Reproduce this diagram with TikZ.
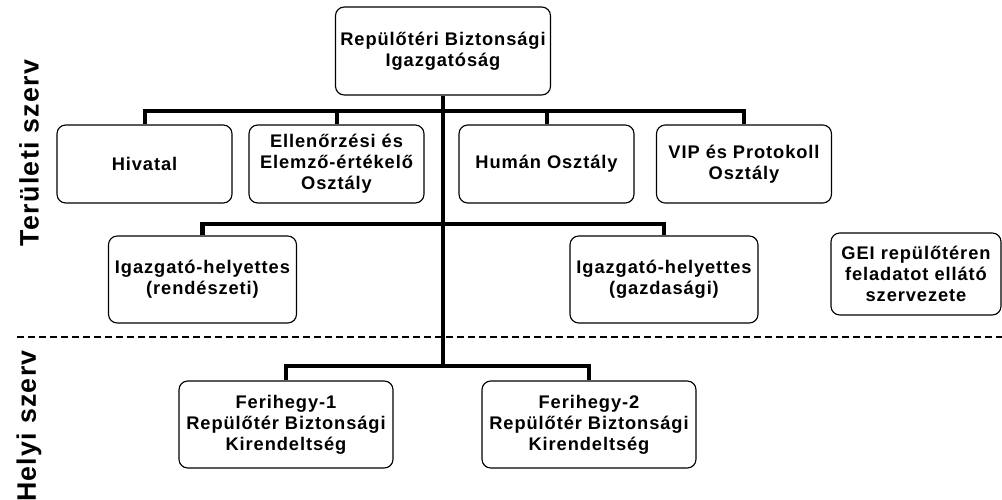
\documentclass[tikz,border=0pt]{standalone}
\usepackage{fontspec}
\setmainfont{Liberation Sans}[LetterSpace=5]
\tikzset{
    unit/.style={draw, rounded corners=0.22cm, line width=0.8pt, align=center, inner sep=0pt,
        font=\fontsize{13}{15}\selectfont\bfseries},
    bar/.style={line width=0.12cm},
    thinbar/.style={line width=0.1cm},
    side/.style={rotate=90, font=\fontsize{19}{22}\selectfont\bfseries}
}
\begin{document}
\begin{tikzpicture}[x=0.025cm, y=-0.025cm]
    \useasboundingbox (0, 0) rectangle (1002, 500);

    % Side labels and divider
    \node[side] (terlabel) at (29, 153) {Területi szerv};
    \node[side] (hellabel) at (29, 426) {Helyi szerv};
    \draw[line width=0.9pt, dash pattern=on 0.175cm off 0.1cm] (17, 337) -- (1002, 337);

    % Top level
    \node[unit, minimum width=5.375cm, minimum height=2.2cm] (rbi) at (443, 51)
        {Repülőtéri Biztonsági\\Igazgatóság};

    % Departments
    \begin{scope}[every node/.style={unit, minimum width=4.375cm, minimum height=1.95cm}]
        \node (hivatal) at (144.5, 164) {Hivatal};
        \node (ellenorzes) at (336.5, 164) {Ellenőrzési és\\Elemző-értékelő\\Osztály};
        \node (human) at (546.5, 164) {Humán Osztály};
        \node (vip) at (744, 164) {VIP és Protokoll\\Osztály};
    \end{scope}

    % Deputies
    \begin{scope}[every node/.style={unit, minimum width=4.7cm, minimum height=2.175cm}]
        \node (helyrend) at (202.5, 279.5) {Igazgató-helyettes\\(rendészeti)};
        \node (helygazd) at (664, 279.5) {Igazgató-helyettes\\(gazdasági)};
    \end{scope}
    \node[unit, minimum width=4.25cm, minimum height=2.05cm] (gei) at (916, 274)
        {GEI repülőtéren\\feladatot ellátó\\szervezete};

    % Local units
    \begin{scope}[every node/.style={unit, minimum width=5.35cm, minimum height=2.175cm}]
        \node (fh1) at (286, 424.5) {Ferihegy-1\\Repülőtér Biztonsági\\Kirendeltség};
        \node (fh2) at (589, 424.5) {Ferihegy-2\\Repülőtér Biztonsági\\Kirendeltség};
    \end{scope}

    % Connectors
    \coordinate (bar1) at (443, 111);
    \coordinate (bar2) at (443, 224);
    \coordinate (bar3) at (443, 366);
    \draw[thinbar] (hivatal.north) |- (bar1) -| (vip.north);
    \draw[thinbar] (ellenorzes.north) |- (bar1);
    \draw[thinbar] (human.north) |- (bar1);
    \draw[bar] (rbi.south) -- (bar3);
    \draw[bar] (helyrend.north) |- (bar2) -| (helygazd.north);
    \draw[bar] (fh1.north) |- (bar3) -| (fh2.north);
\end{tikzpicture}
\end{document}
